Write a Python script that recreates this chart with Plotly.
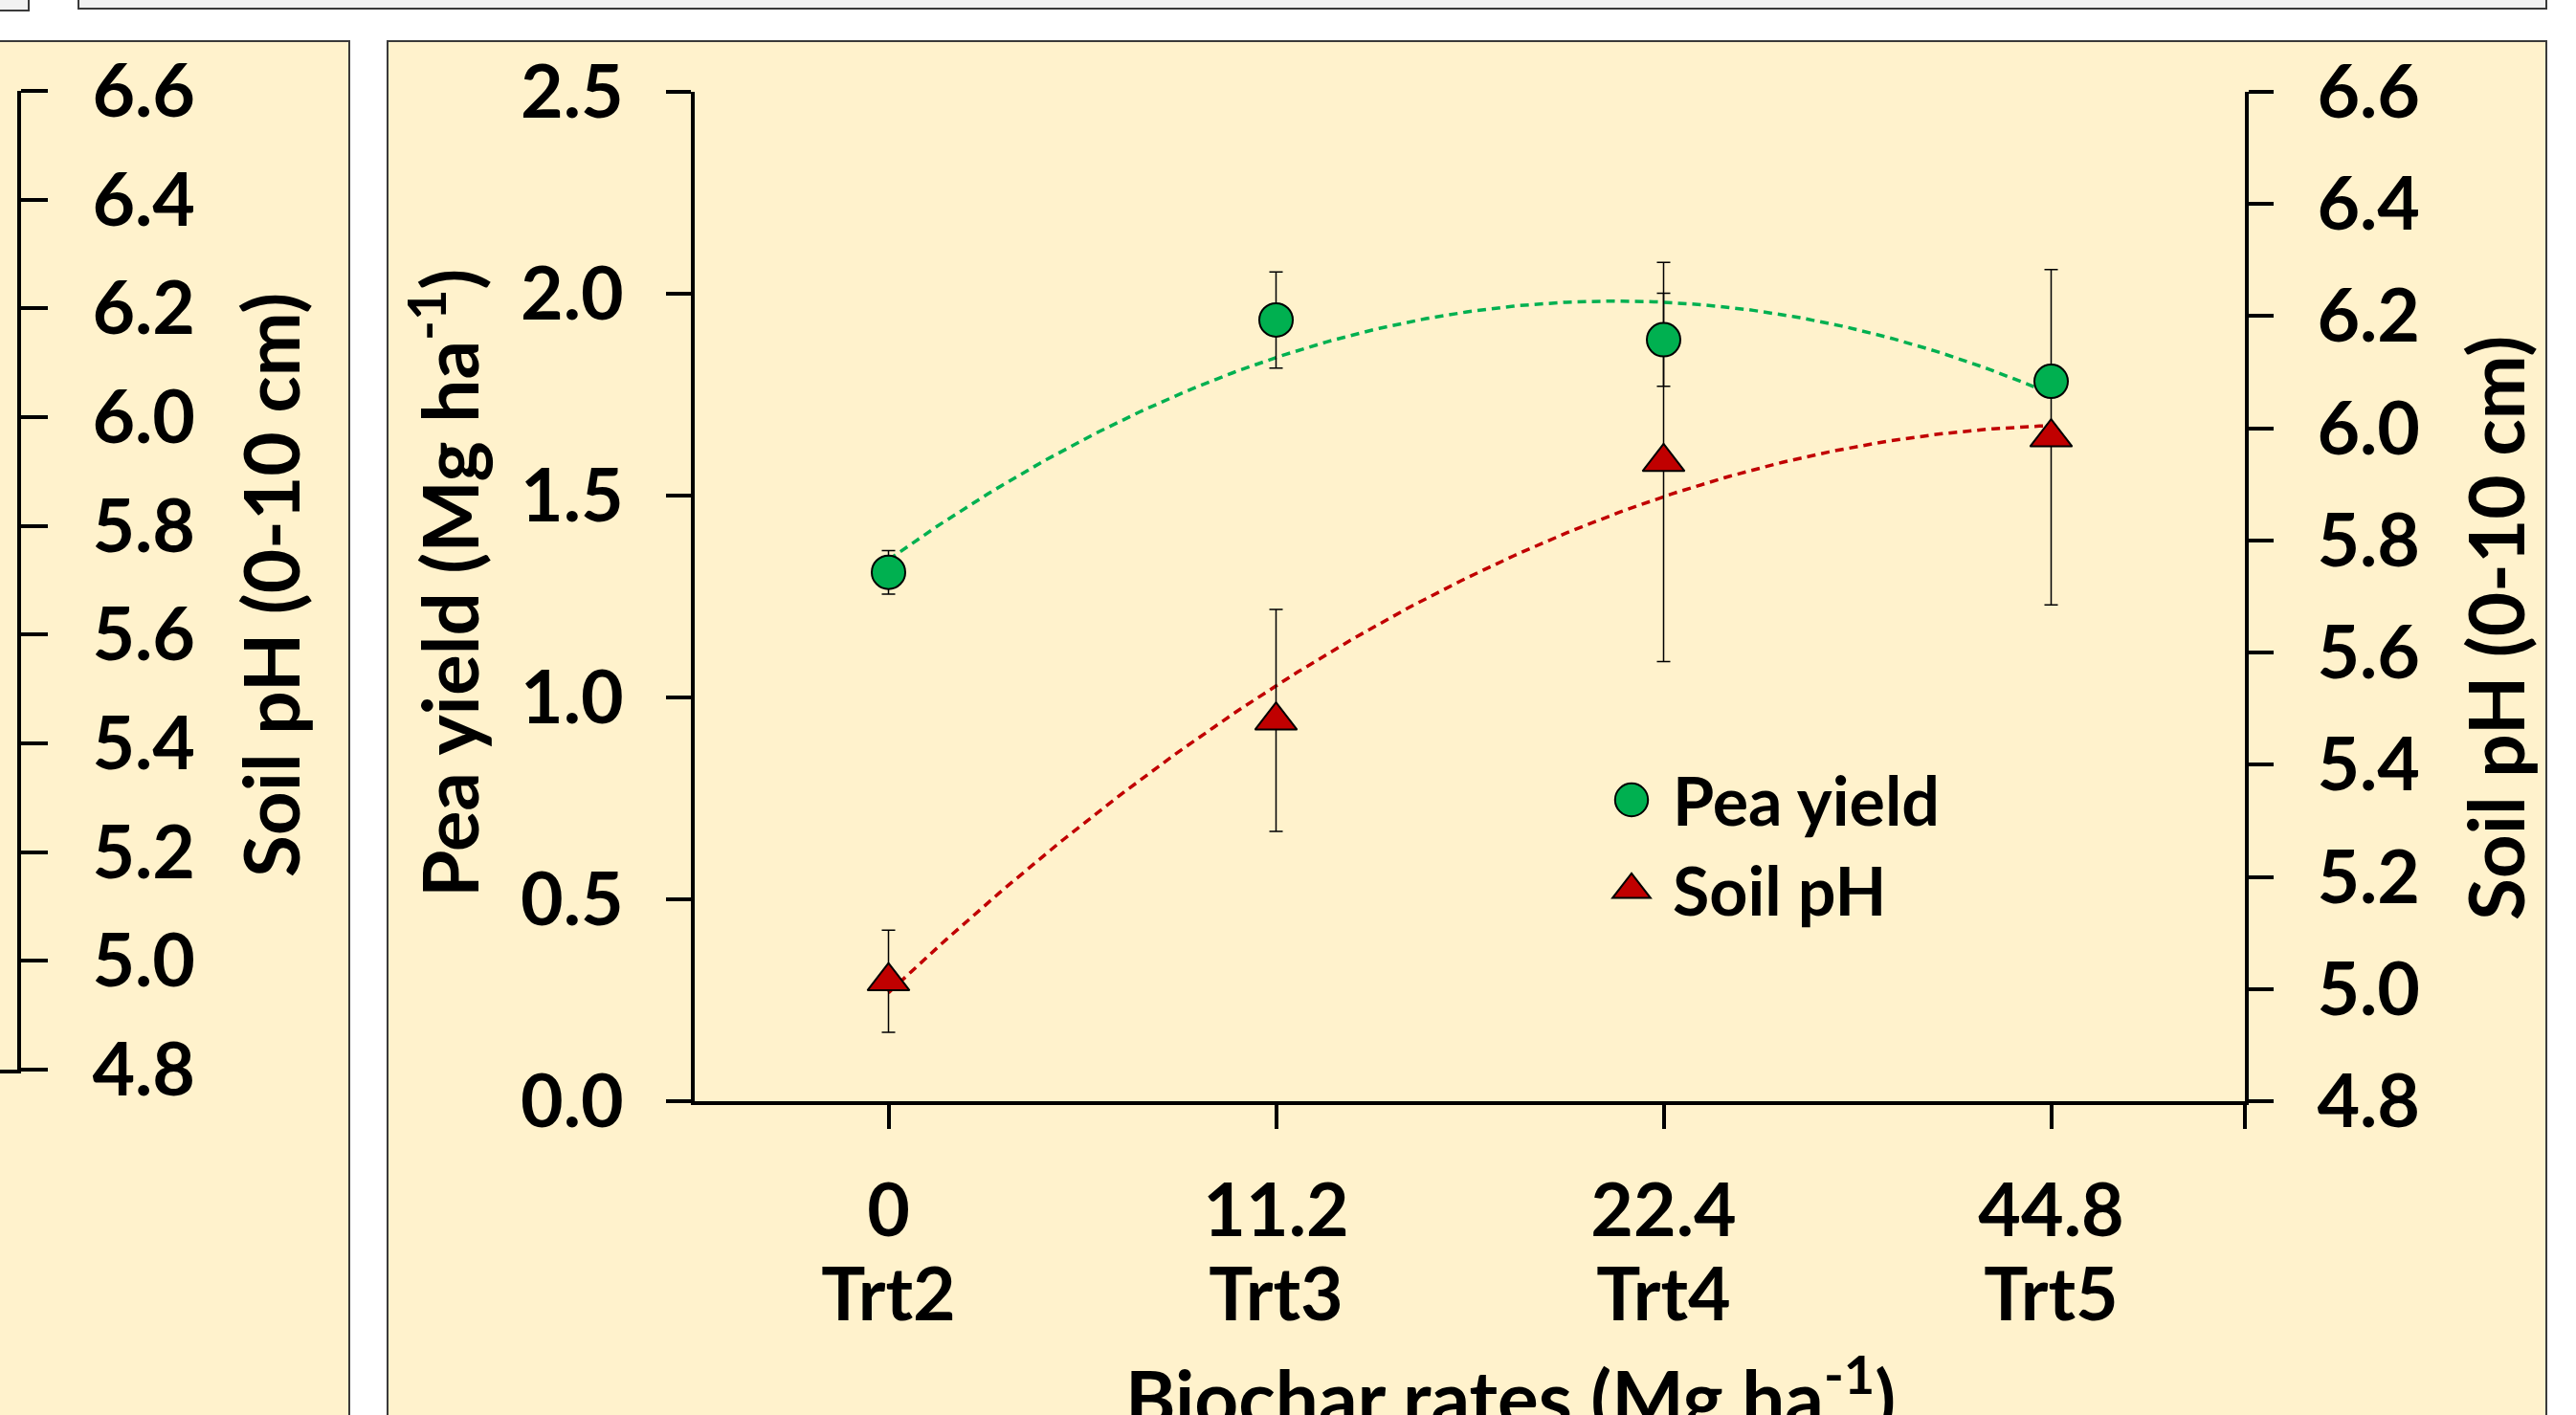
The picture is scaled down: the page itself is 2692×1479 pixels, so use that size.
import numpy as np
import plotly.graph_objects as go

W, H = 2692, 1479

# ---------------- data ----------------
rates = ["0", "11.2", "22.4", "44.8"]
treatments = ["Trt2", "Trt3", "Trt4", "Trt5"]
pea_yield = [1.31, 1.935, 1.886, 1.783]          # Mg ha-1
pea_yield_err = [0.054, 0.119, 0.115, 0.03]
soil_ph = [5.014, 5.479, 5.94, 5.984]            # pH (0-10 cm)
soil_ph_err = [0.091, 0.198, 0.356, 0.299]

GREEN = "#00B050"
RED = "#C00000"
CREAM = "#FFF2CC"
FONT = "Lato"
TICK_SIZE = 77


def fx(px):
    return px / W


def fy(py):
    return 1 - py / H


idx = np.arange(len(rates))
xs = np.linspace(idx[0], idx[-1], 200)
fit_yield = np.polyval(np.polyfit(idx, pea_yield, 2), xs)
fit_ph = np.polyval(np.polyfit(idx, soil_ph, 2), xs)

span = "<span style='font-size:%dpx'>%s</span>"
x_ticktext = [span % (TICK_SIZE, r) + "<br>" + span % (TICK_SIZE, t)
              for r, t in zip(rates, treatments)]

fig = go.Figure()

# Soil pH (base y axis, drawn on the right)
fig.add_trace(go.Scatter(x=xs, y=fit_ph, mode="lines", xaxis="x", yaxis="y",
                         line=dict(color=RED, width=3.5, dash="9px,6px"),
                         showlegend=False, hoverinfo="skip"))
fig.add_trace(go.Scatter(x=idx, y=soil_ph, mode="markers", name="Soil pH",
                         xaxis="x", yaxis="y", legendrank=2,
                         marker=dict(symbol="triangle-up", size=38, color=RED,
                                     line=dict(color="black", width=2)),
                         error_y=dict(type="data", array=soil_ph_err, color="black",
                                      thickness=1.5, width=7)))
# Pea yield (overlaying axis on the left)
fig.add_trace(go.Scatter(x=xs, y=fit_yield, mode="lines", xaxis="x", yaxis="y2",
                         line=dict(color=GREEN, width=3.5, dash="9px,6px"),
                         showlegend=False, hoverinfo="skip"))
fig.add_trace(go.Scatter(x=idx, y=pea_yield, mode="markers", name="Pea yield",
                         xaxis="x", yaxis="y2", legendrank=1,
                         marker=dict(symbol="circle", size=35, color=GREEN,
                                     line=dict(color="black", width=2)),
                         error_y=dict(type="data", array=pea_yield_err, color="black",
                                      thickness=1.5, width=7)))
# left (partially visible) neighbouring panel axis
fig.add_trace(go.Scatter(x=[], y=[], xaxis="x3", yaxis="y3", showlegend=False,
                         hoverinfo="skip"))

tickfont = dict(family=FONT, size=TICK_SIZE, color="black", weight="bold")
xdom = [fx(726), fx(2346)]
ydom = [fy(1151), fy(96)]
axis_common = dict(showgrid=False, zeroline=False, showline=True, linecolor="black",
                   linewidth=4, ticks="outside", tickcolor="black", tickwidth=4,
                   tickfont=tickfont, automargin=False)

fig.update_layout(
    width=W, height=H, autosize=False,
    margin=dict(l=0, r=0, t=0, b=0, pad=0, autoexpand=False),
    paper_bgcolor="white",
    plot_bgcolor="rgba(0,0,0,0)",
    showlegend=True,
    legend=dict(x=fx(1662), y=fy(784), xanchor="left", yanchor="top",
                bgcolor="rgba(0,0,0,0)", font=dict(family=FONT, size=70, color="black",
                                                  weight="bold"),
                tracegroupgap=0, itemsizing="trace", itemwidth=76),
    xaxis=dict(domain=xdom, range=[-0.5, 3.5], anchor="y",
               tickmode="array", tickvals=[0, 1, 2, 3],
               ticktext=x_ticktext, ticklen=25, ticklabelstandoff=30,
               minor=dict(tickmode="array", tickvals=[3.5], ticks="outside",
                          ticklen=25, tickwidth=4, tickcolor="black", showgrid=False),
               **dict(axis_common, tickfont=dict(tickfont, size=68))),
    xaxis2=dict(overlaying="x", range=[-0.5, 3.5], anchor="y", side="bottom",
                tickmode="array", tickvals=[0, 1, 2, 3, 3.5],
                showticklabels=False, showgrid=False, zeroline=False,
                showline=False, ticks="inside", ticklen=18, tickwidth=4,
                tickcolor="black"),
    yaxis=dict(domain=ydom, range=[4.8, 6.6], dtick=0.2, tick0=4.8, tickformat=".1f",
               side="right", anchor="x", ticklen=26, ticklabelstandoff=30,
               **axis_common),
    yaxis2=dict(overlaying="y", range=[0, 2.5], dtick=0.5, tick0=0, tickformat=".1f",
                side="left", anchor="x", ticklen=26, ticklabelstandoff=29,
                **axis_common),
    xaxis3=dict(domain=[0, fx(18)], range=[0, 1], anchor="y3", showgrid=False,
                zeroline=False, showline=True, linecolor="black", linewidth=4,
                ticks="", showticklabels=False),
    yaxis3=dict(domain=[fy(1118), fy(95)], range=[4.8, 6.6], dtick=0.2, tick0=4.8,
                tickformat=".1f", side="right", anchor="x3", ticklen=28,
                ticklabelstandoff=31, **axis_common),
)

# panel backgrounds and top boxes
shape_line = dict(color="#3A3A3A", width=2)
fig.add_shape(type="rect", xref="paper", yref="paper", layer="below",
              x0=fx(-20), x1=fx(365), y0=fy(1510), y1=fy(43),
              fillcolor=CREAM, line=shape_line)
fig.add_shape(type="rect", xref="paper", yref="paper", layer="below",
              x0=fx(405), x1=fx(2661), y0=fy(1510), y1=fy(43),
              fillcolor=CREAM, line=shape_line)
fig.add_shape(type="rect", xref="paper", yref="paper", layer="below",
              x0=fx(-20), x1=fx(30), y0=fy(11), y1=fy(-20),
              fillcolor="#F2F2F2", line=shape_line)
fig.add_shape(type="rect", xref="paper", yref="paper", layer="below",
              x0=fx(82), x1=fx(2661), y0=fy(9), y1=fy(-20),
              fillcolor="#F2F2F2", line=shape_line)

title_font = dict(family=FONT, size=80, color="black", weight="bold")
fig.add_annotation(text="Pea yield (Mg ha<sup>-1</sup>)", xref="paper", yref="paper",
                   x=fx(464), y=fy(610), textangle=-90, showarrow=False,
                   xanchor="center", yanchor="middle", font=title_font)
fig.add_annotation(text="Soil pH (0-10 cm)", xref="paper", yref="paper",
                   x=fx(2607), y=fy(657), textangle=-90, showarrow=False,
                   xanchor="center", yanchor="middle", font=title_font)
fig.add_annotation(text="Soil pH (0-10 cm)", xref="paper", yref="paper",
                   x=fx(282), y=fy(612), textangle=-90, showarrow=False,
                   xanchor="center", yanchor="middle", font=title_font)
fig.add_annotation(text="Biochar rates (Mg ha<sup>-1</sup>)", xref="paper", yref="paper",
                   x=fx(1578), y=fy(1455), showarrow=False,
                   xanchor="center", yanchor="middle", font=title_font)

# enlarge the legend symbols (plotly caps them at 16 px) to match the plot markers
post = """
document.body.style.margin='0px';
document.body.style.overflow='hidden';
document.querySelectorAll('.legend path.scatterpts').forEach(function(p){
  var t = p.getAttribute('transform') || '';
  p.setAttribute('transform', t + ' scale(2.15)');
  p.style.vectorEffect = 'non-scaling-stroke';
  p.style.strokeWidth = '2px';
});
"""

fig.write_html("out.html",
               default_width="%dpx" % W, default_height="%dpx" % H,
               config={"displayModeBar": False, "responsive": False},
               post_script=post)
